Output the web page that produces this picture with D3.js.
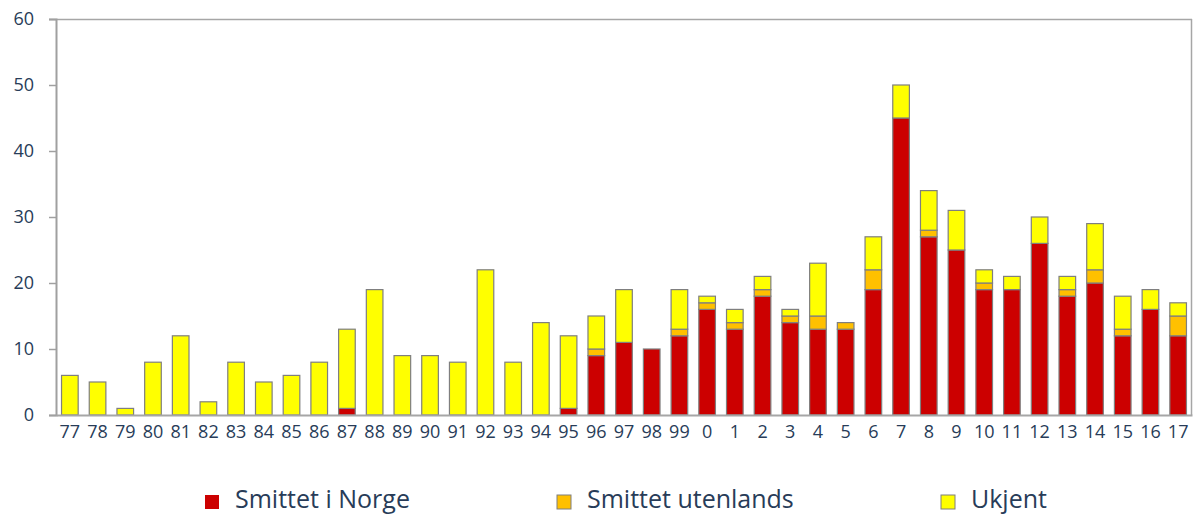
<!DOCTYPE html>
<html><head><meta charset="utf-8">
<script src="https://cdn.jsdelivr.net/npm/d3@7"></script>
<style>
html,body{margin:0;padding:0;background:#fff;}
svg{display:block;font-family:"Open Sans",sans-serif;}
</style></head>
<body><svg id="c" width="1193" height="515"></svg>
<script>
const years = ["77","78","79","80","81","82","83","84","85","86","87","88","89","90","91","92","93","94","95","96","97","98","99","0","1","2","3","4","5","6","7","8","9","10","11","12","13","14","15","16","17"];
const smittetNorge =     [0,0,0,0,0,0,0,0,0,0,1,0,0,0,0,0,0,0,1,9,11,10,12,16,13,18,14,13,13,19,45,27,25,19,19,26,18,20,12,16,12];
const smittetUtenlands = [0,0,0,0,0,0,0,0,0,0,0,0,0,0,0,0,0,0,0,1,0,0,1,1,1,1,1,2,1,3,0,1,0,1,0,0,1,2,1,0,3];
const ukjent =           [6,5,1,8,12,2,8,5,6,8,12,19,9,9,8,22,8,14,11,5,8,0,6,1,2,2,1,8,0,5,5,6,6,2,2,4,2,7,5,3,2];
const seriesNames = ["Smittet i Norge","Smittet utenlands","Ukjent"];
const seriesColors = ["#CC0000","#FFC000","#FFFF00"];
const yTicks = [0,10,20,30,40,50,60];

const rows = years.map((y,i)=>({year:y, "Smittet i Norge":smittetNorge[i], "Smittet utenlands":smittetUtenlands[i], "Ukjent":ukjent[i]}));
const stack = d3.stack().keys(seriesNames)(rows);

const svg = d3.select("#c");
const L=56, R=1192, T=19, B=415;
const x = d3.scaleBand().domain(years).range([L,R]).paddingInner(0.4).paddingOuter(0.2);
const y = d3.scaleLinear().domain([0,60]).range([B,T]);
const textColor = "#283C58";

// frame top/right
svg.append("line").attr("x1",L).attr("x2",R).attr("y1",T+0.5).attr("y2",T+0.5).attr("stroke","#A6A6A6").attr("stroke-width",1.5);
svg.append("line").attr("x1",R-0.5).attr("x2",R-0.5).attr("y1",T).attr("y2",B).attr("stroke","#A6A6A6").attr("stroke-width",1.5);

// bars
const g = svg.append("g");
stack.forEach((s,si)=>{
  g.selectAll(null).data(s.filter(d=>d[1]>d[0])).enter().append("rect")
   .attr("x",d=>x(d.data.year)).attr("width",x.bandwidth())
   .attr("y",d=>y(d[1])).attr("height",d=>y(d[0])-y(d[1]))
   .attr("fill",seriesColors[si]).attr("stroke","#7F7F7F").attr("stroke-width",1.2);
});

// y axis
const ya = svg.append("g").attr("transform",`translate(${L},0)`)
  .call(d3.axisLeft(y).tickValues(yTicks).tickSize(7).tickPadding(6));
ya.select(".domain").attr("stroke","#A0A0A0").attr("stroke-width",2);
ya.selectAll(".tick line").attr("stroke","#A0A0A0").attr("stroke-width",1.5);
ya.selectAll("text").attr("fill",textColor).attr("font-size",18).attr("font-weight",500).attr("font-family","Open Sans, sans-serif").attr("dx",-9);

// x axis
const xa = svg.append("g").attr("transform",`translate(0,${B})`)
  .call(d3.axisBottom(x).tickSize(0).tickPadding(10));
xa.select(".domain").attr("stroke","#A6A6A6").attr("stroke-width",2);
xa.selectAll("text").attr("fill",textColor).attr("font-size",18).attr("font-weight",500).attr("font-family","Open Sans, sans-serif");

// legend
const legX = [205,557,941];
const leg = svg.append("g");
seriesNames.forEach((n,i)=>{
  leg.append("rect").attr("x",legX[i]).attr("y",495).attr("width",14).attr("height",14)
    .attr("fill",seriesColors[i]).attr("stroke", i===0?"none":"#7F7F7F").attr("stroke-width",1);
  leg.append("text").attr("x",legX[i]+30).attr("y",508).text(n)
    .attr("fill",textColor).attr("font-size",25).attr("font-weight",500);
});
</script></body></html>
